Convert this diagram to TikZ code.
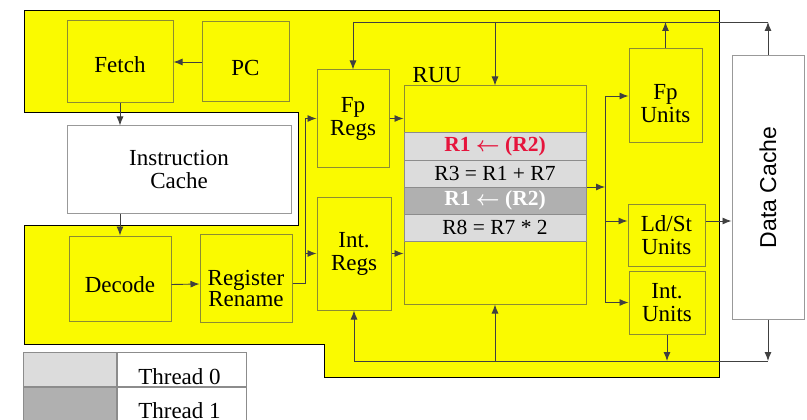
\documentclass[tikz,border=0pt]{standalone}
\usepackage{fontspec}
\setmainfont{Liberation Serif}
\setsansfont{Liberation Sans}
\usetikzlibrary{positioning, arrows.meta}

\definecolor{chipyellow}{RGB}{250,250,0}
\definecolor{blockedge}{RGB}{140,140,50}
\definecolor{rowlight}{RGB}{220,220,220}
\definecolor{rowdark}{RGB}{176,176,176}
\definecolor{hazard}{RGB}{230,20,60}
\newcommand{\loadarrow}{{\boldmath$\leftarrow$}}

\begin{document}
\begin{tikzpicture}[
        x=1pt, y=-1pt,
        font=\fontsize{23}{23}\selectfont,
        blockbox/.style={rectangle, draw=blockedge, fill=chipyellow, line width=1pt, align=center, inner sep=0pt},
        cachebox/.style={rectangle, draw=gray!80, fill=white, line width=1pt, align=center, inner sep=0pt},
        rowbox/.style={rectangle, draw=gray!90, line width=1pt, minimum width=182pt, minimum height=27pt, inner sep=0pt, font=\fontsize{21.5}{21.5}\selectfont},
        legcell/.style={rectangle, draw=gray!90, line width=1pt, inner sep=0pt},
        wire/.style={line width=0.9pt, black!75},
        arr/.style={wire, -{Latex[length=9pt, width=7pt]}},
    ]
        \useasboundingbox (0,0) rectangle (807,420);

        % Chip outline
        \draw[line width=1pt, fill=chipyellow] (24,11) -- (719,11) -- (719,377) -- (324,377) -- (324,344)
            -- (24,344) -- (24,225) -- (298,225) -- (298,113) -- (24,113) -- cycle;

        % Front end
        \node[blockbox, minimum width=106pt, minimum height=82pt] (fetch) at (120,62) {};
        \node[inner sep=0pt] (fetchlabel) at ([yshift=-3pt]fetch.center) {Fetch};
        \node[blockbox, minimum width=87pt, minimum height=80pt] (pc) at (245.5,62) {};
        \node[inner sep=0pt] (pclabel) at ([yshift=-6pt]pc.center) {PC};
        \node[cachebox, minimum width=224pt, minimum height=87pt] (icache) at (179,169.5) {Instruction\\Cache};
        \node[blockbox, minimum width=102pt, minimum height=85pt] (decode) at (120,278.5) {};
        \node[inner sep=0pt] (decodelabel) at ([yshift=-6pt]decode.center) {Decode};
        \node[blockbox, minimum width=92pt, minimum height=88pt] (rename) at (246,278) {};
        \node[align=center, inner sep=0pt] (renamelabel) at ([yshift=-10pt]rename.center) {Register\\[-2pt]Rename};

        % Register files
        \node[blockbox, minimum width=72pt, minimum height=97pt] (fpregs) at (353,118.5) {Fp\\Regs};
        \node[blockbox, minimum width=74pt, minimum height=113pt] (intregs) at (354,253.5) {Int.\\Regs};

        % RUU and its entries
        \node[blockbox, minimum width=182pt, minimum height=218pt] (ruu) at (495,195) {};
        \node[anchor=south west, inner sep=0pt] (ruulabel) at ([xshift=9pt, yshift=3pt]ruu.north west) {RUU};
        \node[rowbox, fill=rowlight, text=hazard] (row1) at (495,146.5) {\textbf{R1 \loadarrow{} (R2)}};
        \node[rowbox, fill=rowlight] (row2) at (495,173.5) {R3 = R1 + R7};
        \node[rowbox, fill=rowdark, text=white] (row3) at (495,200.5) {\textbf{R1 \loadarrow{} (R2)}};
        \node[rowbox, fill=rowlight] (row4) at (495,227.5) {R8 = R7 * 2};

        % Functional units
        \node[blockbox, minimum width=73pt, minimum height=94pt] (fpunits) at (665.5,96) {};
        \node[align=center, inner sep=0pt] (fpunitslabel) at ([yshift=-8pt]fpunits.center) {Fp\\Units};
        \node[blockbox, minimum width=77pt, minimum height=62pt] (ldst) at (666.5,235) {Ld/St\\Units};
        \node[blockbox, minimum width=76pt, minimum height=63pt] (intunits) at (667,302.5) {Int.\\Units};
        \node[cachebox, minimum width=72pt, minimum height=263pt] (dcache) at (768,187.5) {\rotatebox{90}{\sffamily Data Cache}};

        % Front end flow
        \draw[arr] (pc) -- (fetch);
        \draw[arr] (fetch.south) -- (fetch.south |- icache.north);
        \draw[arr] (decode.north |- icache.south) -- (decode.north);
        \draw[arr] ([yshift=-6pt]decode.east) -- ([yshift=-6pt]rename.west);

        % Rename to register files
        \coordinate (split) at (305,283);
        \draw[wire] (split -| rename.east) -- (split) -- (split |- fpregs.west);
        \draw[arr] (split |- fpregs.west) -- (fpregs.west);
        \draw[arr] (split |- intregs.west) -- (intregs.west);
        \draw[arr] (fpregs.east) -- (fpregs.east -| ruu.west);
        \draw[arr] (intregs.east) -- (intregs.east -| ruu.west);

        % Result buses
        \coordinate (bustop) at (0,22);
        \coordinate (busbot) at (0,361);
        \draw[wire] (fpregs.north |- bustop) -- (dcache.north |- bustop);
        \draw[wire] (intregs.south |- busbot) -- (dcache.south |- busbot);
        \draw[arr] (fpregs.north |- bustop) -- (fpregs.north);
        \draw[arr] (ruu.north |- bustop) -- (ruu.north);
        \draw[arr] (fpunits.north) -- (fpunits.north |- bustop);
        \draw[arr] (dcache.north) -- (dcache.north |- bustop);
        \draw[arr] (intregs.south |- busbot) -- (intregs.south);
        \draw[arr] (ruu.south |- busbot) -- (ruu.south);
        \draw[arr] (intunits.south) -- (intunits.south |- busbot);
        \draw[arr] (dcache.south) -- (dcache.south |- busbot);

        % Issue to units
        \coordinate (issue) at (605,187);
        \draw[arr] (ruu.east |- issue) -- (issue);
        \draw[wire] (issue |- fpunits.west) -- (issue |- intunits.west);
        \draw[arr] (issue |- fpunits.west) -- (fpunits.west);
        \draw[arr] (issue |- ldst.west) ++(0,-14) coordinate (ldstin) -- (ldstin -| ldst.west);
        \draw[arr] (issue |- intunits.west) -- (intunits.west);
        \draw[arr] (ldstin -| ldst.east) -- (ldstin -| dcache.west);

        % Legend
        \node[legcell, fill=rowlight, minimum width=93pt, minimum height=34pt] (leg0) at (69.5,369) {};
        \node[legcell, fill=white, minimum width=129pt, minimum height=34pt, right=0pt of leg0] (leg0txt) {};
        \node[legcell, fill=rowdark, minimum width=93pt, minimum height=36pt, below=0pt of leg0] (leg1) {};
        \node[legcell, fill=white, minimum width=129pt, minimum height=36pt, right=0pt of leg1] (leg1txt) {};
        \node[anchor=south, inner sep=0pt] (thr0) at ([xshift=-2pt, yshift=2pt]leg0txt.south) {Thread 0};
        \node[anchor=south, inner sep=0pt] (thr1) at ([xshift=-2pt, yshift=5pt]leg1txt.south) {Thread 1};
\end{tikzpicture}
\end{document}
